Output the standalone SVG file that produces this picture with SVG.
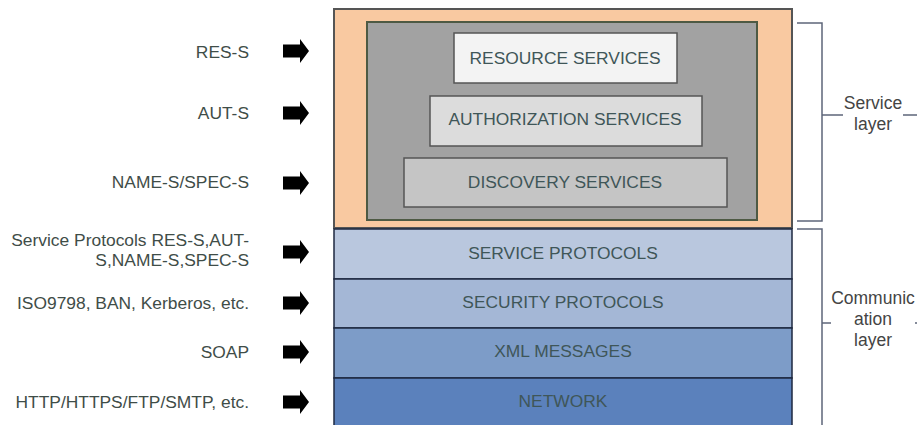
<svg xmlns="http://www.w3.org/2000/svg" width="917" height="425" viewBox="0 0 917 425">
<defs>
<style>
.lbl{font-family:"Liberation Sans",Arial,sans-serif;font-size:17.4px;fill:#3f4d48;text-anchor:end}
.ctr{font-family:"Liberation Sans",Arial,sans-serif;font-size:17.4px;fill:#3f5658;text-anchor:middle}
.rt{font-family:"Liberation Sans",Arial,sans-serif;font-size:17.5px;fill:#444;text-anchor:middle}
.br{fill:none;stroke:#5d6579;stroke-width:1.5}
.lay{stroke:#1e2840;stroke-width:1.5}
</style>
<path id="arr" d="M0,-6.5 H17 V-12 L26,0 L17,12 V6.5 H0 Z" fill="#000"/>
</defs>
<rect width="917" height="425" fill="#fff"/>
<g id="service-layer-box">
<rect x="334" y="9" width="458" height="219" fill="#f9c9a1" stroke="#555" stroke-width="2"/>
<rect x="367" y="22" width="390" height="198" fill="#a2a2a2" stroke="#4e5a44" stroke-width="2"/>
</g>
<g id="resource-services">
<rect x="454" y="33" width="223" height="50" fill="#f3f3f3" stroke="#555" stroke-width="1.5"/>
<text class="ctr" x="565" y="64">RESOURCE SERVICES</text>
</g>
<g id="authorization-services">
<rect x="430" y="96" width="272" height="50" fill="#dcdcdc" stroke="#555" stroke-width="1.5"/>
<text class="ctr" x="565" y="125">AUTHORIZATION SERVICES</text>
</g>
<g id="discovery-services">
<rect x="404" y="158" width="323" height="49" fill="#c5c5c5" stroke="#555" stroke-width="1.5"/>
<text class="ctr" x="565" y="188">DISCOVERY SERVICES</text>
</g>
<g id="service-protocols">
<rect x="334" y="229" width="458" height="50" fill="#b9c7de" class="lay"/>
<text class="ctr" x="563" y="259">SERVICE PROTOCOLS</text>
</g>
<g id="security-protocols">
<rect x="334" y="279" width="458" height="49" fill="#a4b7d6" class="lay"/>
<text class="ctr" x="563" y="308">SECURITY PROTOCOLS</text>
</g>
<g id="xml-messages">
<rect x="334" y="328" width="458" height="50" fill="#7d9cc8" class="lay"/>
<text class="ctr" x="563" y="357">XML MESSAGES</text>
</g>
<g id="network">
<rect x="334" y="378" width="458" height="52" fill="#5b81bc" class="lay"/>
<text class="ctr" x="563" y="407">NETWORK</text>
</g>
<g id="left-labels">
<text class="lbl" x="249" y="58">RES-S</text>
<text class="lbl" x="249" y="119">AUT-S</text>
<text class="lbl" x="249" y="188">NAME-S/SPEC-S</text>
<text class="lbl" x="249" y="246">Service Protocols RES-S,AUT-</text>
<text class="lbl" x="249" y="266">S,NAME-S,SPEC-S</text>
<text class="lbl" x="249" y="309">ISO9798, BAN, Kerberos, etc.</text>
<text class="lbl" x="249" y="358">SOAP</text>
<text class="lbl" x="249" y="408">HTTP/HTTPS/FTP/SMTP, etc.</text>
</g>
<g id="connectors">
<use href="#arr" x="283" y="51"/>
<use href="#arr" x="283" y="113"/>
<use href="#arr" x="283" y="183"/>
<use href="#arr" x="283" y="252"/>
<use href="#arr" x="283" y="303"/>
<use href="#arr" x="283" y="352"/>
<use href="#arr" x="283" y="402"/>
</g>
<g id="service-bracket">
<path class="br" d="M797,23 H822 V221 H797 M822,115 H843 M903,115 H917"/>
<text class="rt" x="873" y="109">Service</text>
<text class="rt" x="873" y="130">layer</text>
</g>
<g id="communication-bracket">
<path class="br" d="M797,229 H822 V425 M822,323 H831 M915,323 H917"/>
<text class="rt" x="873" y="304">Communic</text>
<text class="rt" x="873" y="325">ation</text>
<text class="rt" x="873" y="346">layer</text>
</g>
</svg>
